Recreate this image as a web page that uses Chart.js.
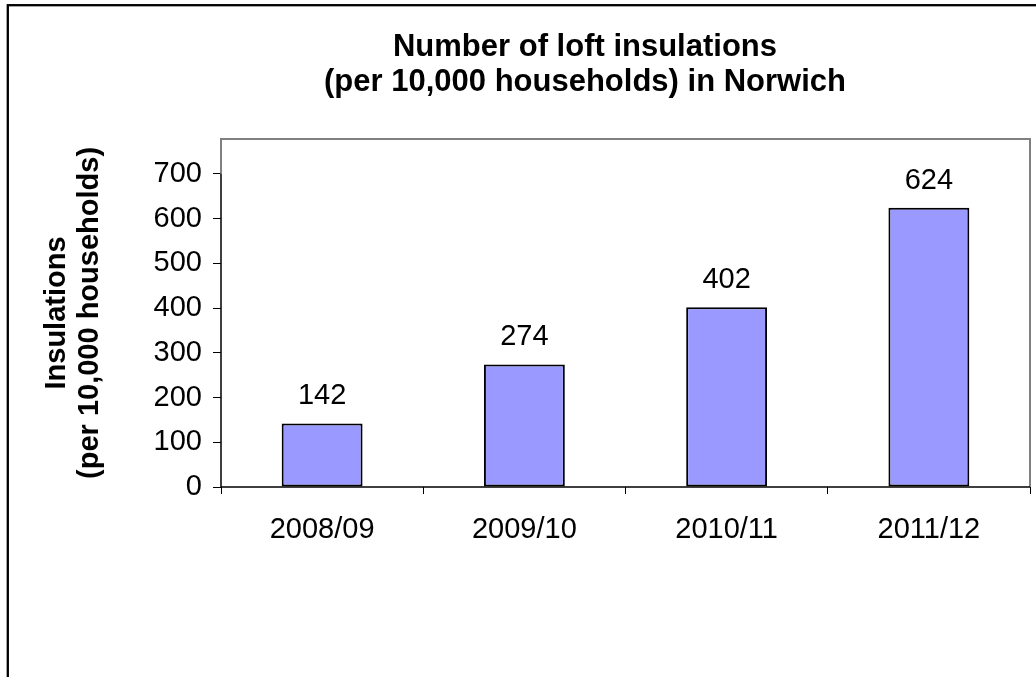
<!DOCTYPE html>
<html>
<head>
<meta charset="utf-8">
<script src="https://cdn.jsdelivr.net/npm/chart.js@4"></script>
<style>
  html, body { margin: 0; padding: 0; background: #fff; overflow: hidden; }
  #wrap { width: 1170px; height: 700px; }
</style>
</head>
<body>
<div id="wrap"><canvas id="loftChart" width="1170" height="700"></canvas></div>
<script>
const categories = ['2008/09', '2009/10', '2010/11', '2011/12'];
const insulations = [142, 274, 402, 624];
const yTicks = [0, 100, 200, 300, 400, 500, 600, 700];

const FONT = "'Liberation Sans', Arial, sans-serif";

// outer chart border + plot frame, Excel style
const framePlugin = {
    id: 'frame',
    beforeDraw(chart) {
        const c = chart.ctx;
        c.save();
        c.fillStyle = '#fff';
        c.fillRect(0, 0, chart.width, chart.height);
        c.strokeStyle = '#000';
        c.lineWidth = 2.3;
        c.strokeRect(7.8, 5.2, chart.width - 15.6, chart.height - 10.4);
        c.restore();
    },
    afterDatasetsDraw(chart) {
        const c = chart.ctx;
        const a = chart.chartArea;
        const y = chart.scales.y;
        const topTick = y.getPixelForValue(yTicks[yTicks.length - 1]);
        c.save();
        c.strokeStyle = '#808080';
        c.lineWidth = 2;
        c.beginPath();
        c.moveTo(a.left, topTick);
        c.lineTo(a.left, a.top);
        c.lineTo(a.right, a.top);
        c.lineTo(a.right, a.bottom);
        c.stroke();
        c.strokeStyle = '#000';
        c.lineWidth = 1.5;
        c.beginPath();
        c.moveTo(a.left, topTick);
        c.lineTo(a.left, a.bottom);
        c.lineTo(a.right, a.bottom);
        c.stroke();
        c.restore();
    }
};

// value labels above the bars
const valueLabels = {
    id: 'valueLabels',
    afterDatasetsDraw(chart) {
        const c = chart.ctx;
        const meta = chart.getDatasetMeta(0);
        c.save();
        c.font = '29px ' + FONT;
        c.fillStyle = '#000';
        c.textAlign = 'center';
        c.textBaseline = 'middle';
        meta.data.forEach((bar, i) => {
            c.fillText(String(insulations[i]), bar.x, bar.y - 27);
        });
        c.restore();
    }
};

const ctx = document.getElementById('loftChart').getContext('2d');

const loftChart = new Chart(ctx, {
    type: 'bar',
    data: {
        labels: categories,
        datasets: [{
            label: 'Insulations',
            data: insulations,
            backgroundColor: '#9999FF',
            borderColor: '#000',
            borderWidth: 2,
            borderSkipped: false,
            barPercentage: 0.4,
            categoryPercentage: 1
        }]
    },
    options: {
        responsive: false,
        animation: false,
        layout: { padding: 0 },
        plugins: {
            legend: { display: false },
            tooltip: { enabled: false },
            title: {
                display: true,
                text: ['Number of loft insulations', '(per 10,000 households) in Norwich'],
                color: '#000',
                font: { family: FONT, size: 31, weight: 'bold', lineHeight: 1.16 },
                padding: { top: 29, bottom: 38 }
            }
        },
        scales: {
            x: {
                border: { display: false },
                grid: {
                    display: true,
                    drawOnChartArea: false,
                    offset: true,
                    tickLength: 7,
                    color: '#000',
                    lineWidth: 1
                },
                ticks: {
                    color: '#000',
                    padding: 19,
                    maxRotation: 0,
                    font: { family: FONT, size: 29 }
                },
                afterFit(scale) { scale.height = 213; }
            },
            y: {
                min: 0,
                max: 778,
                border: { display: false },
                grid: {
                    drawOnChartArea: false,
                    tickLength: 8,
                    color: '#000',
                    lineWidth: 1
                },
                ticks: {
                    color: '#000',
                    padding: 11,
                    font: { family: FONT, size: 29 }
                },
                afterBuildTicks(scale) {
                    scale.ticks = yTicks.map(v => ({ value: v }));
                },
                title: {
                    display: true,
                    text: ['Insulations', '(per 10,000 households)'],
                    color: '#000',
                    font: { family: FONT, size: 29, weight: 'bold', lineHeight: 1.14 },
                    padding: { top: 40, bottom: 0 }
                },
                afterFit(scale) { scale.width = 221; }
            },
            yRight: {
                position: 'right',
                display: true,
                grid: { display: false },
                border: { display: false },
                ticks: { display: false },
                afterFit(scale) { scale.width = 140; }
            }
        }
    },
    plugins: [framePlugin, valueLabels]
});
</script>
</body>
</html>
